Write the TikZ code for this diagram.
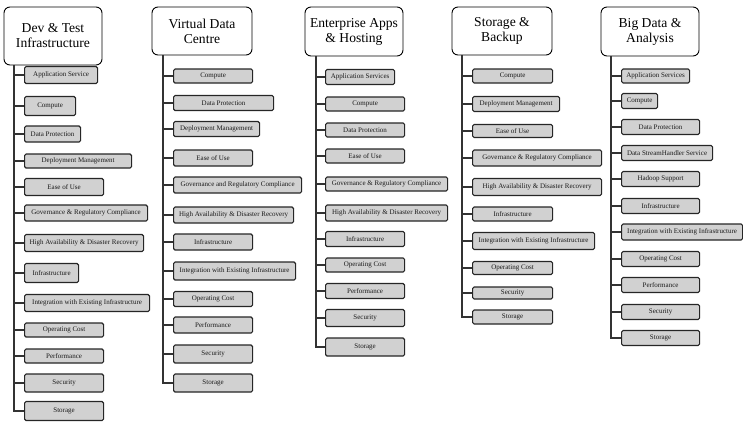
\documentclass[tikz,border=0pt]{standalone}
\usepackage{fontspec}
\setmainfont{Liberation Serif}
\begin{document}
\begin{tikzpicture}[x=1pt,y=-1pt,
  head/.style={draw=black, line width=0.9pt, fill=white, rounded corners=6pt,
    align=center, inner sep=0pt, font=\fontsize{13.6}{15}\selectfont},
  item/.style={draw=black!85, line width=1.2pt, fill=black!18, rounded corners=1.5pt,
    anchor=west, inner sep=0pt, text=black!90, font=\fontsize{7}{7.5}\selectfont},
  link/.style={draw=black!80, line width=1.2pt}]
\useasboundingbox (0,0) rectangle (743,424);

% ---------- Dev & Test Infrastructure ----------
\node[head, minimum width=98, minimum height=58] (h1) at (53,36) {Dev \& Test\\Infrastructure};
\coordinate (t1) at (14,65);
\foreach \y/\w/\h/\t [count=\i] in {
  75/73/17/Application Service,
  106/51/19/Compute,
  134/56/16/Data Protection,
  161/107/14/Deployment Management,
  187/79/17/Ease of Use,
  213/123/16/Governance \& Regulatory Compliance,
  243/119/17/High Availability \& Disaster Recovery,
  273/54/19/Infrastructure,
  303/125/17/Integration with Existing Infrastructure,
  330/79/14/Operating Cost,
  356/79/14/Performance,
  383/79/18/Security,
  411/79/19/Storage}{
  \node[item, minimum width=\w, minimum height=\h] (a\i) at (24,\y) {\t};
  \draw[link] (t1) |- (a\i.west);
}

% ---------- Virtual Data Centre ----------
\node[head, minimum width=100, minimum height=48] (h2) at (202,31) {Virtual Data\\Centre};
\coordinate (t2) at (163,55);
\foreach \y/\w/\h/\t [count=\i] in {
  76/79/14/Compute,
  103/100/15/Data Protection,
  129/86/15/Deployment Management,
  158/79/16/Ease of Use,
  185/128/16/Governance and Regulatory Compliance,
  215/120/16/High Availability \& Disaster Recovery,
  242/79/16/Infrastructure,
  271/122/18/Integration with Existing Infrastructure,
  299/79/15/Operating Cost,
  325/79/16/Performance,
  354/79/18/Security,
  383/79/18/Storage}{
  \node[item, minimum width=\w, minimum height=\h] (b\i) at (173,\y) {\t};
  \draw[link] (t2) |- (b\i.west);
}

% ---------- Enterprise Apps & Hosting ----------
\node[head, minimum width=98, minimum height=49] (h3) at (354,31.5) {Enterprise Apps\\\& Hosting};
\coordinate (t3) at (316,56);
\foreach \y/\w/\h/\t [count=\i] in {
  77/69/15/Application Services,
  104/79/14/Compute,
  130/79/14/Data Protection,
  156/79/14/Ease of Use,
  184/122/14/Governance \& Regulatory Compliance,
  213/122/16/High Availability \& Disaster Recovery,
  239/79/15/Infrastructure,
  265/79/14/Operating Cost,
  291/79/15/Performance,
  318/79/17/Security,
  347/79/18/Storage}{
  \node[item, minimum width=\w, minimum height=\h] (c\i) at (325,\y) {\t};
  \draw[link] (t3) |- (c\i.west);
}

% ---------- Storage & Backup ----------
\node[head, minimum width=100, minimum height=48] (h4) at (502,31) {Storage \&\\Backup};
\coordinate (t4) at (462,55);
\foreach \y/\w/\h/\t [count=\i] in {
  76/80/14/Compute,
  104/87/15/Deployment Management,
  131/80/13/Ease of Use,
  158/129/16/Governance \& Regulatory Compliance,
  187/129/17/High Availability \& Disaster Recovery,
  214/80/14/Infrastructure,
  241/122/17/Integration with Existing Infrastructure,
  268/80/13/Operating Cost,
  293/80/12/Security,
  317/80/14/Storage}{
  \node[item, minimum width=\w, minimum height=\h] (d\i) at (472,\y) {\t};
  \draw[link] (t4) |- (d\i.west);
}

% ---------- Big Data & Analysis ----------
\node[head, minimum width=98, minimum height=49] (h5) at (650,31.5) {Big Data \&\\Analysis};
\coordinate (t5) at (611,56);
\foreach \y/\w/\h/\t [count=\i] in {
  76/68/14/Application Services,
  101/36/15/Compute,
  127/78/15/Data Protection,
  153/91/15/Data StreamHandler Service,
  179/78/15/Hadoop Support,
  206/78/15/Infrastructure,
  232/121/16/Integration with Existing Infrastructure,
  259/78/15/Operating Cost,
  285/78/15/Performance,
  312/78/15/Security,
  338/78/15/Storage}{
  \node[item, minimum width=\w, minimum height=\h] (e\i) at (621,\y) {\t};
  \draw[link] (t5) |- (e\i.west);
}
\end{tikzpicture}
\end{document}
